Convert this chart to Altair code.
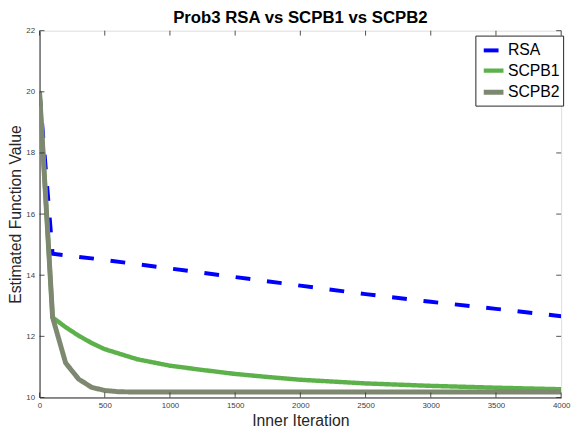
import altair as alt
import pandas as pd

series_names = ["RSA", "SCPB1", "SCPB2"]
colors = ["#0000FF", "#5DB14B", "#7E8870"]

rsa_x = [0, 100, 500, 1000, 1500, 2000, 2500, 3000, 3500, 4000]
rsa_y = [20.0, 14.7, 14.5, 14.22, 13.94, 13.66, 13.38, 13.13, 12.9, 12.66]

scpb1_x = [0, 100, 200, 300, 400, 500, 750, 1000, 1250, 1500, 1750, 2000, 2500, 3000, 3500, 4000]
scpb1_y = [20.0, 12.62, 12.3, 12.02, 11.78, 11.58, 11.25, 11.04, 10.9, 10.77, 10.67, 10.58, 10.46, 10.38, 10.32, 10.27]

scpb2_x = [0, 100, 200, 300, 400, 500, 600, 700, 1000, 2000, 3000, 4000]
scpb2_y = [20.0, 12.62, 11.13, 10.6, 10.33, 10.23, 10.19, 10.18, 10.18, 10.18, 10.18, 10.18]

x_ticks = [0, 500, 1000, 1500, 2000, 2500, 3000, 3500, 4000]
y_ticks = [10, 12, 14, 16, 18, 20, 22]

rows = []
for name, xs, ys in [("RSA", rsa_x, rsa_y), ("SCPB1", scpb1_x, scpb1_y), ("SCPB2", scpb2_x, scpb2_y)]:
    for a, b in zip(xs, ys):
        rows.append({"series": name, "x": a, "y": b, "order": series_names.index(name)})
df = pd.DataFrame(rows)

W, H = 529, 372
xscale = alt.Scale(domain=[0, 4000], nice=False, zero=False)
yscale = alt.Scale(domain=[10, 22], nice=False, zero=False)

xt = pd.DataFrame({"x": x_ticks})
yt = pd.DataFrame({"y": y_ticks})

FONT = "Liberation Sans"

lines = alt.Chart(df).mark_line(clip=True).encode(
    x=alt.X("x:Q", scale=xscale,
            axis=alt.Axis(values=x_ticks, format="d", title="Inner Iteration", ticks=False, labelPadding=4,
                          labelFontSize=8, labelColor="#404040", titleFontSize=16,
                          titleFontWeight="normal", titleColor="#262626", titlePadding=3,
                          domainColor="#262626", grid=False, labelFlush=False)),
    y=alt.Y("y:Q", scale=yscale,
            axis=alt.Axis(values=y_ticks, format="d", title="Estimated Function Value", ticks=False, labelPadding=5,
                          labelFontSize=8, labelColor="#404040", titleFontSize=16,
                          titleFontWeight="normal", titleColor="#262626", titlePadding=2,
                          domainColor="#262626", grid=False)),
    color=alt.Color("series:N", scale=alt.Scale(domain=series_names, range=colors),
                    legend=alt.Legend(title=None, orient="none", legendX=442, legendY=5,
                                      symbolType="stroke", symbolSize=400, symbolStrokeWidth=4,
                                      symbolOffset=3,
                                      labelFontSize=16, labelColor="#000000", strokeColor="#262626",
                                      fillColor="white", padding=3, rowPadding=0, labelOffset=2,
                                      cornerRadius=0)),
    strokeDash=alt.StrokeDash("series:N", scale=alt.Scale(domain=series_names, range=[[15, 17], [1, 0], [1, 0]]),
                              legend=None),
    strokeWidth=alt.StrokeWidth("series:N", scale=alt.Scale(domain=series_names, range=[4, 5, 5]), legend=None),
    detail="series:N",
    order="order:Q",
)

tick_color = "#262626"
xb = alt.Chart(xt).mark_rule(color=tick_color, strokeWidth=0.8).encode(
    x="x:Q", y=alt.value(H), y2=alt.value(H - 5))
xtop = alt.Chart(xt).mark_rule(color=tick_color, strokeWidth=0.8).encode(
    x="x:Q", y=alt.value(0), y2=alt.value(5))
yl = alt.Chart(yt).mark_rule(color=tick_color, strokeWidth=0.8).encode(
    y="y:Q", x=alt.value(0), x2=alt.value(5))
yr = alt.Chart(yt).mark_rule(color=tick_color, strokeWidth=0.8).encode(
    y="y:Q", x=alt.value(W), x2=alt.value(W - 5))

chart = alt.layer(lines, xb, xtop, yl, yr).properties(
    width=W, height=H,
    title=alt.Title("Prob3 RSA vs SCPB1 vs SCPB2", fontSize=17, fontWeight="bold", color="#000000",
                    font=FONT, offset=0, anchor="middle"),
    padding={"left": 32, "top": 20, "right": 11, "bottom": 32},
    autosize=alt.AutoSizeParams(type="none"),
).configure_view(stroke="#262626", strokeWidth=1).configure(
    font=FONT
).configure_axis(labelFont=FONT, titleFont=FONT).configure_legend(labelFont=FONT)

chart.save("out.html", embed_options={"renderer": "svg", "actions": False})
